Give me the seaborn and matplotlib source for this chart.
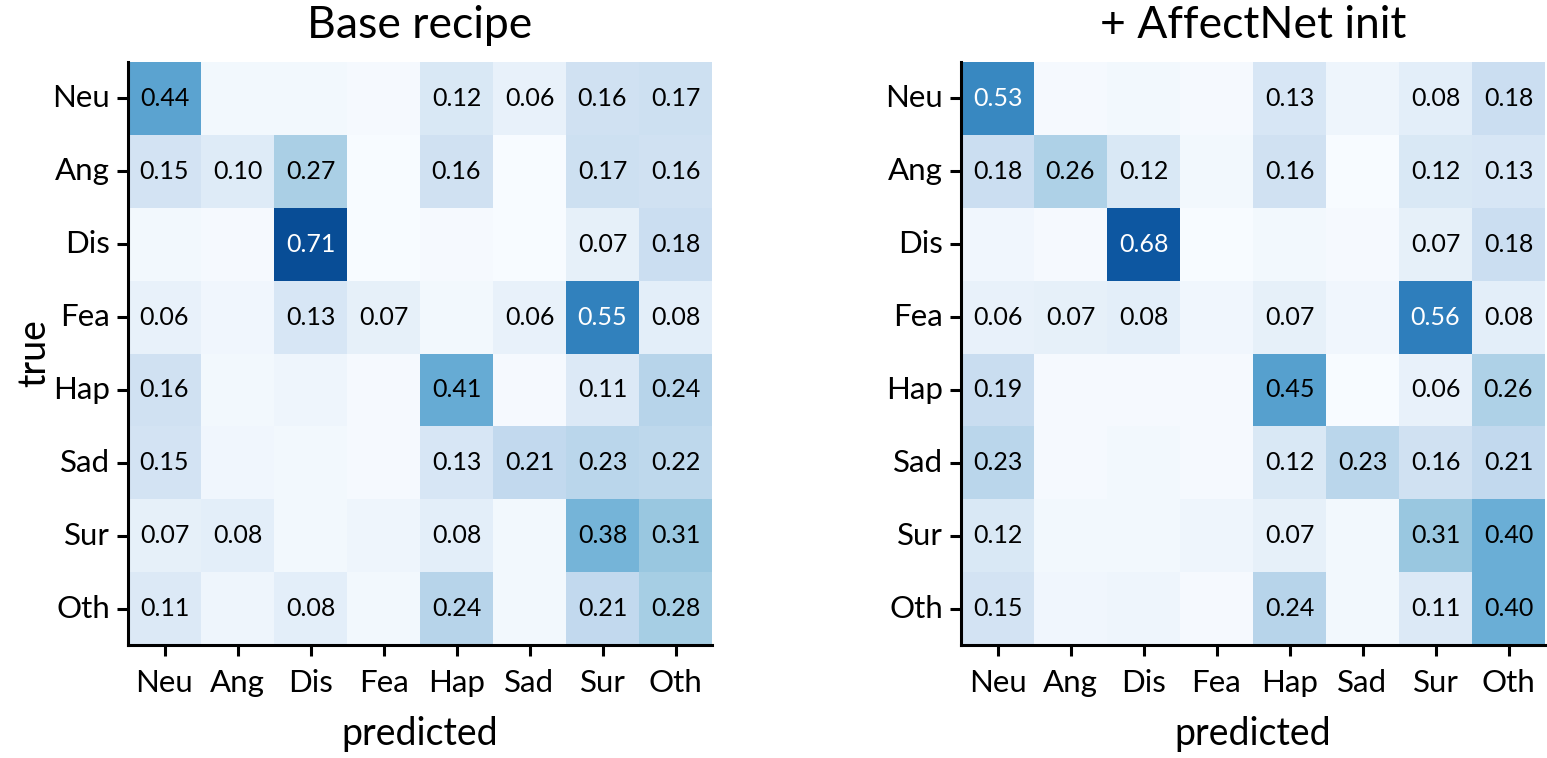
import numpy as np
import pandas as pd
import matplotlib
matplotlib.use("Agg")
import matplotlib.pyplot as plt
import seaborn as sns

labels = ["Neu", "Ang", "Dis", "Fea", "Hap", "Sad", "Sur", "Oth"]

base_recipe = [
    [0.44, 0.02, 0.02, 0.01, 0.12, 0.06, 0.16, 0.17],
    [0.15, 0.10, 0.27, 0.00, 0.16, 0.00, 0.17, 0.16],
    [0.02, 0.01, 0.71, 0.00, 0.01, 0.00, 0.07, 0.18],
    [0.06, 0.03, 0.13, 0.07, 0.02, 0.06, 0.55, 0.08],
    [0.16, 0.02, 0.04, 0.01, 0.41, 0.01, 0.11, 0.24],
    [0.15, 0.03, 0.02, 0.01, 0.13, 0.21, 0.23, 0.22],
    [0.07, 0.08, 0.02, 0.04, 0.08, 0.02, 0.38, 0.31],
    [0.11, 0.04, 0.08, 0.02, 0.24, 0.02, 0.21, 0.28],
]

affectnet_init = [
    [0.53, 0.01, 0.02, 0.01, 0.13, 0.04, 0.08, 0.18],
    [0.18, 0.26, 0.12, 0.02, 0.16, 0.00, 0.12, 0.13],
    [0.03, 0.01, 0.68, 0.00, 0.02, 0.01, 0.07, 0.18],
    [0.06, 0.07, 0.08, 0.03, 0.07, 0.03, 0.56, 0.08],
    [0.19, 0.01, 0.01, 0.01, 0.45, 0.00, 0.06, 0.26],
    [0.23, 0.01, 0.02, 0.01, 0.12, 0.23, 0.16, 0.21],
    [0.12, 0.02, 0.02, 0.04, 0.07, 0.02, 0.31, 0.40],
    [0.15, 0.03, 0.04, 0.01, 0.24, 0.02, 0.11, 0.40],
]

titles = ["Base recipe", "+ AffectNet init"]

sns.set_theme(style="ticks")
plt.rcParams["font.family"] = ["Lato", "DejaVu Sans"]
plt.rcParams["text.color"] = "black"
plt.rcParams["axes.labelcolor"] = "black"
plt.rcParams["xtick.labelcolor"] = "black"
plt.rcParams["ytick.labelcolor"] = "black"
plt.rcParams["xtick.color"] = "black"
plt.rcParams["ytick.color"] = "black"

fig = plt.figure(figsize=(15.47, 7.58), dpi=100)
W, H = 1547, 758
positions = [
    [128 / W, (H - 645) / H, 584 / W, 583 / H],
    [961 / W, (H - 645) / H, 584 / W, 583 / H],
]

for k, (mat, title) in enumerate(zip([base_recipe, affectnet_init], titles)):
    ax = fig.add_axes(positions[k])
    df = pd.DataFrame(np.array(mat), index=labels, columns=labels)
    annot = df.map(lambda v: f"{v:.2f}" if v >= 0.055 else "")
    sns.heatmap(df, ax=ax, cmap="Blues", vmin=0, vmax=0.8, cbar=False,
                annot=annot, fmt="", square=False,
                annot_kws={"fontsize": 18, "color": "black"})
    vals = df.values.flatten()
    for t, v in zip(ax.texts, vals):
        t.set_color("white" if v > 0.5 else "black")
    ax.set_title(title, fontsize=32, pad=17, color="black")
    ax.set_xlabel("predicted", fontsize=27, labelpad=14, color="black")
    if k == 0:
        ax.set_ylabel("true", fontsize=27, labelpad=0, color="black")
    else:
        ax.set_ylabel("")
    ax.tick_params(axis="both", labelsize=22.5, length=8, width=2.2,
                   color="black", labelcolor="black")
    ax.tick_params(axis="x", pad=9)
    ax.tick_params(axis="y", pad=5)
    ax.set_yticklabels(labels, rotation=0)
    ax.set_xticklabels(labels, rotation=0)
    for side in ["left", "bottom"]:
        ax.spines[side].set_visible(True)
        ax.spines[side].set_linewidth(2.2)
        ax.spines[side].set_color("black")
    for side in ["top", "right"]:
        ax.spines[side].set_visible(False)

fig.savefig("out.png", dpi=100)
